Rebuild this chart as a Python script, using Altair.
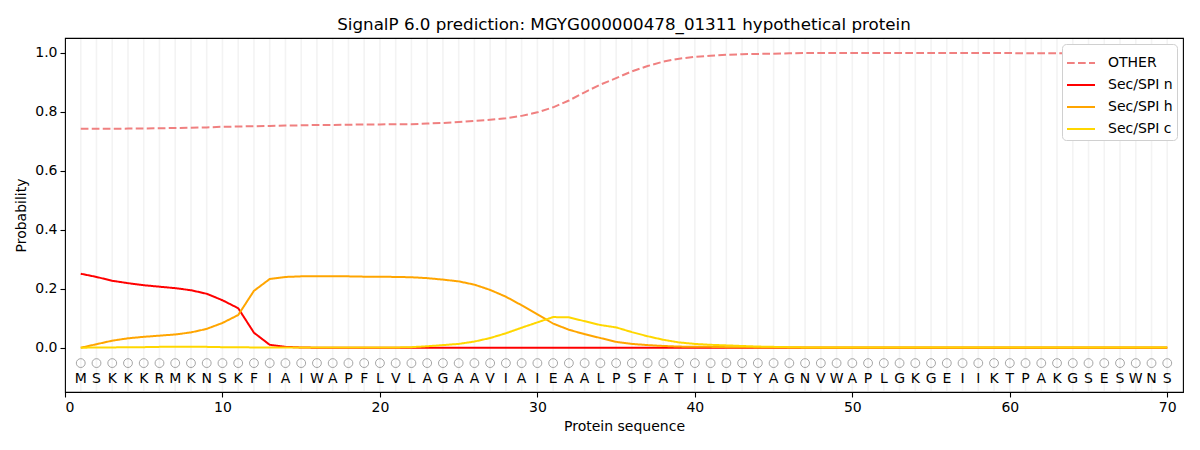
import altair as alt
import pandas as pd

positions = list(range(1, 71))
sequence = list("MSKKKRMKNSKFIAIWAPFLVLAGAAVIAIEAALPSFATILDTYAGNVWAPLGKGEIIKTPAKGSESWNS")

other = [0.742, 0.742, 0.742, 0.743, 0.743, 0.744, 0.745, 0.746, 0.747, 0.749,
         0.750, 0.751, 0.752, 0.753, 0.754, 0.755, 0.755, 0.756, 0.757, 0.757,
         0.758, 0.758, 0.760, 0.762, 0.765, 0.769, 0.773, 0.778, 0.786, 0.798,
         0.815, 0.838, 0.866, 0.892, 0.914, 0.937, 0.955, 0.970, 0.980, 0.986,
         0.990, 0.993, 0.995, 0.996, 0.997, 0.998, 0.999, 0.999, 0.999, 0.999,
         0.999, 0.999, 0.999, 0.999, 0.999, 0.999, 0.999, 0.999, 0.999, 0.999,
         0.998, 0.998, 0.998, 0.998, 0.998, 0.998, 0.998, 0.998, 0.998, 0.998]

sec_n = [0.251, 0.240, 0.227, 0.219, 0.212, 0.207, 0.202, 0.195, 0.183, 0.161,
         0.134, 0.051, 0.010, 0.003, 0.001] + [0.0] * 55

sec_h = [0.000, 0.012, 0.024, 0.032, 0.037, 0.041, 0.045, 0.052, 0.064, 0.084,
         0.111, 0.193, 0.233, 0.240, 0.242, 0.242, 0.242, 0.242, 0.241, 0.241,
         0.240, 0.239, 0.236, 0.231, 0.225, 0.214, 0.196, 0.173, 0.144, 0.113,
         0.082, 0.061, 0.046, 0.033, 0.020, 0.013, 0.009, 0.006, 0.004, 0.003,
         0.003, 0.002, 0.002] + [0.001] * 27

sec_c = [0.000, 0.001, 0.001, 0.002, 0.002, 0.003, 0.003, 0.003, 0.003, 0.002,
         0.002, 0.001, 0.001, 0.001, 0.001, 0.001, 0.001, 0.001, 0.001, 0.001,
         0.001, 0.002, 0.005, 0.009, 0.013, 0.021, 0.033, 0.049, 0.068, 0.086,
         0.104, 0.103, 0.090, 0.077, 0.069, 0.053, 0.039, 0.027, 0.018, 0.013,
         0.010, 0.008, 0.006, 0.004, 0.003, 0.002] + [0.001] * 24

series_names = ["OTHER", "Sec/SPI n", "Sec/SPI h", "Sec/SPI c"]
series_colors = ["#f08080", "#ff0000", "#ffa500", "#ffd700"]
series_dashes = [[7.7, 3.3], [1, 0], [1, 0], [1, 0]]

x_ticks = [0, 10, 20, 30, 40, 50, 60, 70]
y_ticks = [0.0, 0.2, 0.4, 0.6, 0.8, 1.0]
x_domain = [0, 71]
y_domain = [-0.15, 1.05]
grid_span = [-0.147, 1.047]
circle_y = -0.052
letter_y = -0.105

FONT = "DejaVu Sans"

rows = []
for name, vals in zip(series_names, [other, sec_n, sec_h, sec_c]):
    for p, v in zip(positions, vals):
        rows.append({"pos": p, "prob": v, "series": name, "order": series_names.index(name)})
lines_df = pd.DataFrame(rows)

res_df = pd.DataFrame({"pos": positions, "aa": sequence})
res_df["cy"] = circle_y
res_df["ly"] = letter_y
res_df["y0"] = grid_span[0]
res_df["y1"] = grid_span[1]

xscale = alt.Scale(domain=x_domain, nice=False, zero=False)
yscale = alt.Scale(domain=y_domain, nice=False, zero=False)

xaxis = alt.Axis(values=x_ticks, title="Protein sequence", grid=False, format="d")
yaxis = alt.Axis(values=y_ticks, title="Probability", grid=False, format=".1f")

grid = alt.Chart(res_df).mark_rule(color="#f3f3f3", strokeWidth=1.6).encode(
    x=alt.X("pos:Q", scale=xscale, axis=xaxis),
    y=alt.Y("y0:Q", scale=yscale, axis=yaxis),
    y2="y1:Q",
)

circles = alt.Chart(res_df).mark_point(
    shape="circle", filled=False, color="#808080", size=78, strokeWidth=1
).encode(
    x=alt.X("pos:Q", scale=xscale),
    y=alt.Y("cy:Q", scale=yscale),
)

letters = alt.Chart(res_df).mark_text(
    font=FONT, fontSize=14, color="black", baseline="middle", align="center"
).encode(
    x=alt.X("pos:Q", scale=xscale),
    y=alt.Y("ly:Q", scale=yscale),
    text="aa:N",
)

legend = alt.Legend(
    title=None, orient="top-right", offset=6,
    symbolType="stroke", symbolSize=784, symbolStrokeWidth=2,
    labelFont=FONT, labelFontSize=14, rowPadding=-12,
    strokeColor="#d0d0d0", fillColor="white", padding=4, cornerRadius=4,
    labelOffset=12,
)

lines = alt.Chart(lines_df).mark_line(strokeWidth=2).encode(
    x=alt.X("pos:Q", scale=xscale),
    y=alt.Y("prob:Q", scale=yscale),
    color=alt.Color("series:N", scale=alt.Scale(domain=series_names, range=series_colors),
                    legend=legend, sort=series_names),
    strokeDash=alt.StrokeDash("series:N", scale=alt.Scale(domain=series_names, range=series_dashes),
                              legend=legend, sort=series_names),
    order="order:Q",
)

chart = alt.layer(grid, circles, letters, lines).properties(
    width=1118, height=354,
    title=alt.TitleParams("SignalP 6.0 prediction: MGYG000000478_01311 hypothetical protein",
                          font=FONT, fontSize=16.7, fontWeight="normal", anchor="middle",
                          offset=4, color="black"),
    autosize=alt.AutoSizeParams(type="none"),
    padding={"left": 57, "top": 30, "right": 7, "bottom": 50},
).configure_view(
    stroke="black", strokeWidth=1.1
).configure_axis(
    domain=False, ticks=True, tickColor="black", tickSize=5, tickWidth=1.1,
    labelFont=FONT, labelFontSize=14, labelColor="black", labelPadding=3,
    titleFont=FONT, titleFontSize=14, titleFontWeight="normal", titleColor="black",
).configure_axisX(titlePadding=5).configure_axisY(titlePadding=6)

chart.save("out.html", embed_options={"renderer": "svg", "actions": False})
